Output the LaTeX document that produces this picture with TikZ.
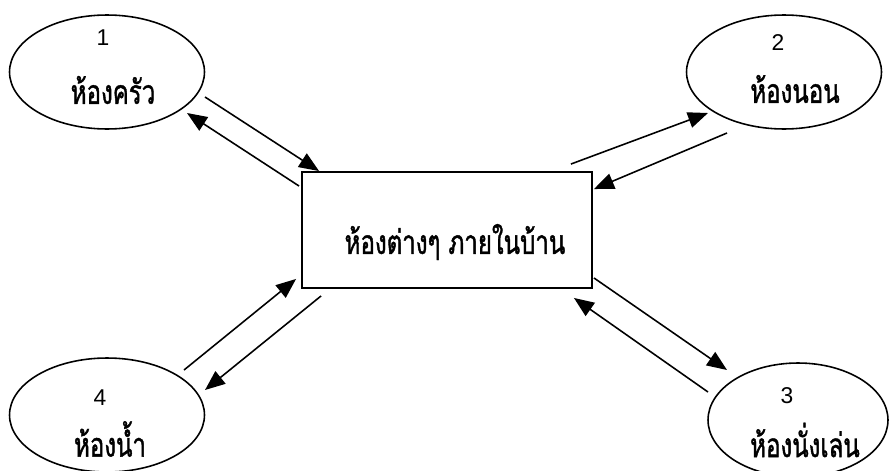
\documentclass[tikz,border=0pt]{standalone}
\usepackage{fontspec}
\setmainfont{Liberation Sans}
\newfontfamily\thaifont[Script=Thai, FakeStretch=0.72, FakeBold=1.2]{Loma}
\usetikzlibrary{calc,shapes.geometric,arrows.meta}

\begin{document}
\begin{tikzpicture}[x=0.02cm, y=-0.02cm, >={Triangle[length=0.4cm,width=0.32cm]},
    room/.style={draw, ellipse, line width=0.9pt, minimum height=2.28cm, inner sep=0pt},
    hub/.style={draw, line width=1.1pt, minimum width=5.8cm, minimum height=2.32cm,
                inner sep=0pt},
    rname/.style={font=\thaifont\fontsize{19}{22}\selectfont, inner sep=0pt},
    rnum/.style={font=\fontsize{13}{15}\selectfont, inner sep=0pt},
    flow/.style={->, line width=0.9pt}]
  \useasboundingbox (0,0) rectangle (889,470);
  \clip (0,0) rectangle (889,470);
  % กล่องกลาง
  \node[hub] (rooms) at (447,230) {};
  \node[rname] (roomstext) at ($(rooms)+(8,12)$) {ห้องต่างๆ ภายในบ้าน};
  % ห้องทั้งสี่ (วงรี + หมายเลข + ชื่อห้อง)
  \foreach \n/\x/\y/\w/\num/\nx/\ny/\lbl/\lx/\ly in {
      k/107/72/3.9/1/-4/-34/ห้องครัว/6/18,
      b/784/72/3.9/2/-6/-29/ห้องนอน/11/17,
      l/798/420/3.6/3/-11/-24/ห้องนั่งเล่น/7/20,
      w/107/415/3.9/4/-7/-17/ห้องน้ำ/3/24} {
    \node[room, minimum width=\w cm] (\n) at (\x,\y) {};
    \node[rnum] (\n-num) at ($(\n)+(\nx,\ny)$) {\num};
    \node[rname] (\n-name) at ($(\n)+(\lx,\ly)$) {\lbl};
  }
  % ลูกศรไป-กลับ
  \draw[flow] ($(k)+(98,25)$) -- ($(rooms.north west)+(18,0)$);
  \draw[flow] ($(rooms.north west)+(-2,15)$) -- ($(k)+(80,41)$);
  \draw[flow] ($(rooms.north east)+(-22,-7)$) -- ($(b)+(-76,41)$);
  \draw[flow] ($(b)+(-57,61)$) -- ($(rooms.north east)+(1,18)$);
  \draw[flow] ($(rooms.south east)+(1,-11)$) -- ($(l)+(-71,-50)$);
  \draw[flow] ($(l)+(-90,-28)$) -- ($(rooms.south east)+(-19,9)$);
  \draw[flow] ($(w)+(77,-45)$) -- ($(rooms.south west)+(-5,-10)$);
  \draw[flow] ($(rooms.south west)+(20,7)$) -- ($(w)+(98,-25)$);
\end{tikzpicture}
\end{document}
